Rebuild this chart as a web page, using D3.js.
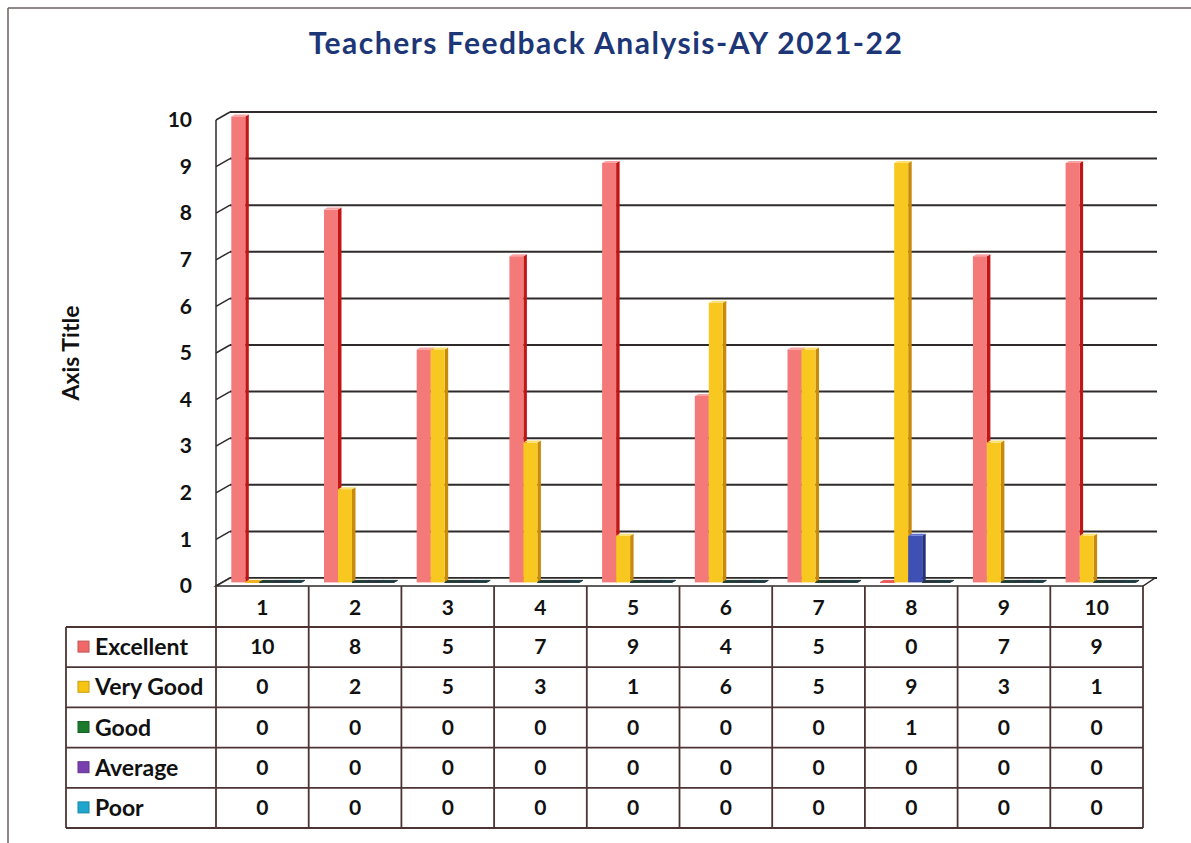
<!DOCTYPE html>
<html>
<head>
<meta charset="utf-8">
<script src="https://cdn.jsdelivr.net/npm/d3@7"></script>
<style>
  html, body { margin: 0; padding: 0; background: #ffffff; }
  svg { display: block; }
  text { font-family: Lato, "Open Sans", sans-serif; font-weight: 700; }
</style>
</head>
<body>
<svg id="chart" width="1191" height="843"></svg>
<script>
// ---- data ----
const categories = ["1", "2", "3", "4", "5", "6", "7", "8", "9", "10"];
const seriesNames = ["Excellent", "Very Good", "Good", "Average", "Poor"];
const excellent = [10, 8, 5, 7, 9, 4, 5, 0, 7, 9];
const veryGood  = [0, 2, 5, 3, 1, 6, 5, 9, 3, 1];
const good      = [0, 0, 0, 0, 0, 0, 0, 1, 0, 0];
const average   = [0, 0, 0, 0, 0, 0, 0, 0, 0, 0];
const poor      = [0, 0, 0, 0, 0, 0, 0, 0, 0, 0];
const yTicks    = [0, 1, 2, 3, 4, 5, 6, 7, 8, 9, 10];
const titleText = "Teachers Feedback Analysis-AY 2021-22";
const axisTitleText = "Axis Title";

const seriesValues = [excellent, veryGood, good, average, poor];
// colours
const keyColors   = ["#f06868", "#f7c412", "#1b7a2c", "#7a3fae", "#1ea6cf"];
const frontColors = ["#f47a7a", "#f8c820", "#3e50b4", "#5a3a90", "#1e86a8"];
const sideColors  = ["#c21616", "#c98a0c", "#26337c", "#3a2460", "#145a70"];
const topColors   = ["#f9a4a4", "#fbe070", "#6070d0", "#2b2a3e", "#1d3d45"];
const zeroColors  = ["#e85a5a", "#f0b020", "#1f3b34", "#25323a", "#1d3a40"];

// ---- layout ----
const svg = d3.select("#chart");
const plotLeft = 216, plotRight = 1143;
const y0 = 586, y10 = 120;
const DX = 14, DY = -8;          // depth vector (front -> back wall)
const tFront = 0.45, tBack = 0.7; // bar depth
const barW = 14, barStart = 9;
const lineCol = "#2e2a2a";
const tableCol = "#4d3434";

const x = d3.scaleBand().domain(categories).range([plotLeft, plotRight]).padding(0);
const y = d3.scaleLinear().domain([0, 10]).range([y0, y10]);

// outer photo frame
svg.append("line").attr("x1", 8).attr("y1", 8).attr("x2", 1191).attr("y2", 8)
  .attr("stroke", "#6b5f5f").attr("stroke-width", 1.5);
svg.append("line").attr("x1", 8).attr("y1", 8).attr("x2", 8).attr("y2", 843)
  .attr("stroke", "#6b5f5f").attr("stroke-width", 1.5);

// title
svg.append("text").attr("x", 606).attr("y", 54).attr("text-anchor", "middle")
  .attr("font-size", 30).attr("letter-spacing", 1.5).attr("fill", "#1c3677").text(titleText);

// axis title
svg.append("text").attr("transform", "translate(79,353) rotate(-90)")
  .attr("text-anchor", "middle").attr("font-size", 23).attr("fill", "#111").text(axisTitleText);

// back wall gridlines
const grid = svg.append("g");
grid.selectAll("line.h").data(yTicks).join("line")
  .attr("x1", plotLeft + DX).attr("x2", plotRight + DX)
  .attr("y1", d => y(d) + DY).attr("y2", d => y(d) + DY)
  .attr("stroke", lineCol).attr("stroke-width", 2);
// left wall diagonals
grid.selectAll("line.d").data(yTicks).join("line")
  .attr("x1", plotLeft).attr("x2", plotLeft + DX)
  .attr("y1", d => y(d)).attr("y2", d => y(d) + DY)
  .attr("stroke", lineCol).attr("stroke-width", 1.5);
// front axis line
grid.append("line").attr("x1", plotLeft).attr("x2", plotLeft)
  .attr("y1", y(10)).attr("y2", y(0)).attr("stroke", lineCol).attr("stroke-width", 1.5);

// floor
svg.append("path")
  .attr("d", `M${plotLeft},${y0} L${plotRight},${y0} L${plotRight + DX - 2},${y0 + DY} L${plotLeft + DX},${y0 + DY} Z`)
  .attr("fill", "#ffffff").attr("stroke", lineCol).attr("stroke-width", 1.5);

// y axis labels via d3 axis
const yAxis = svg.append("g").attr("transform", `translate(${plotLeft - 24},0)`)
  .call(d3.axisLeft(y).tickValues(yTicks).tickSize(0).tickPadding(0).tickFormat(d3.format("d")));
yAxis.select(".domain").remove();
yAxis.selectAll("text").attr("font-size", 21).attr("fill", "#111")
  .attr("font-family", "Lato, sans-serif").attr("font-weight", 700);

// bars
const bars = svg.append("g");
categories.forEach((cat, ci) => {
  seriesValues.forEach((vals, si) => {
    const v = vals[ci];
    const bx = x(cat) + barStart + si * barW; // front-left at depth 0
    const fx = bx + tFront * DX, fyOff = tFront * DY;
    const kx = (tBack - tFront) * DX, ky = (tBack - tFront) * DY;
    const yb = y(0) + fyOff, yt = y(v) + fyOff;
    const g = bars.append("g");
    if (v === 0) {
      g.append("path")
        .attr("d", `M${fx},${yb} L${fx + barW},${yb} L${fx + barW + kx},${yb + ky} L${fx + kx},${yb + ky} Z`)
        .attr("fill", zeroColors[si]).attr("stroke", zeroColors[si]).attr("stroke-width", 1);
      return;
    }
    // side face
    g.append("path")
      .attr("d", `M${fx + barW},${yb} L${fx + barW + kx},${yb + ky} L${fx + barW + kx},${yt + ky} L${fx + barW},${yt} Z`)
      .attr("fill", sideColors[si]);
    // front face
    g.append("rect").attr("x", fx).attr("y", yt).attr("width", barW).attr("height", yb - yt)
      .attr("fill", frontColors[si]);
    // top face
    g.append("path")
      .attr("d", `M${fx},${yt} L${fx + barW},${yt} L${fx + barW + kx},${yt + ky} L${fx + kx},${yt + ky} Z`)
      .attr("fill", topColors[si]);
  });
});

// ---- data table ----
const tableTop = y0, headerBottom = 627, rowH = 40.2, labelLeft = 66;
const table = svg.append("g");
// header row
categories.forEach(cat => {
  table.append("text").attr("x", x(cat) + x.bandwidth() / 2).attr("y", 615)
    .attr("text-anchor", "middle").attr("font-size", 21).attr("fill", "#111").text(cat);
});
// column lines
const colEdges = categories.map(c => x(c)).concat([plotRight]);
table.selectAll("line.col").data(colEdges).join("line")
  .attr("x1", d => d).attr("x2", d => d)
  .attr("y1", tableTop).attr("y2", headerBottom + rowH * seriesNames.length)
  .attr("stroke", tableCol).attr("stroke-width", 1.8);
// label column left line
table.append("line").attr("x1", labelLeft).attr("x2", labelLeft)
  .attr("y1", headerBottom).attr("y2", headerBottom + rowH * seriesNames.length)
  .attr("stroke", tableCol).attr("stroke-width", 1.8);
// row lines
const rowEdges = d3.range(seriesNames.length + 1).map(i => headerBottom + i * rowH);
table.selectAll("line.row").data(rowEdges).join("line")
  .attr("x1", labelLeft).attr("x2", plotRight)
  .attr("y1", d => d).attr("y2", d => d)
  .attr("stroke", tableCol).attr("stroke-width", 1.8);

seriesNames.forEach((name, si) => {
  const cy = headerBottom + si * rowH + rowH / 2;
  table.append("rect").attr("x", 78).attr("y", cy - 6).attr("width", 11).attr("height", 11)
    .attr("fill", keyColors[si]).attr("stroke", d3.color(keyColors[si]).darker(0.6)).attr("stroke-width", 1);
  table.append("text").attr("x", 95).attr("y", cy + 8).attr("font-size", 23)
    .attr("fill", "#111").text(name);
  categories.forEach((cat, ci) => {
    table.append("text").attr("x", x(cat) + x.bandwidth() / 2).attr("y", cy + 7)
      .attr("text-anchor", "middle").attr("font-size", 21).attr("fill", "#111")
      .text(seriesValues[si][ci]);
  });
});
</script>
</body>
</html>
